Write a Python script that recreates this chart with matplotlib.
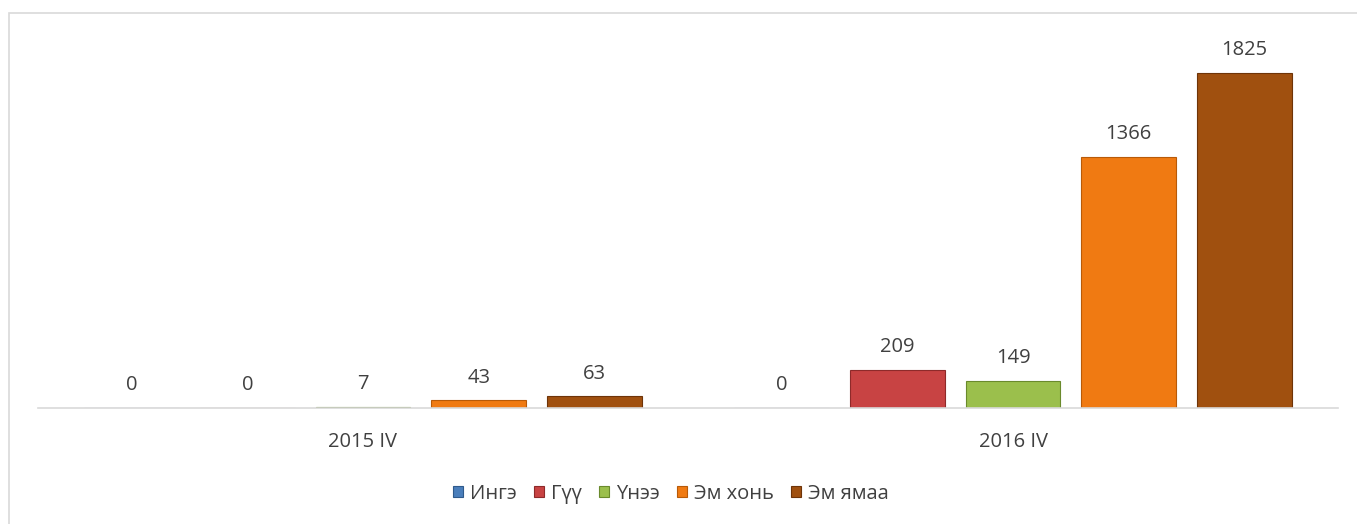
import matplotlib.pyplot as plt
import numpy as np

plt.rcParams['font.family'] = ['Open Sans', 'DejaVu Sans']

periods = ["2015 IV", "2016 IV"]
series = ["Ингэ", "Гүү", "Үнээ", "Эм хонь", "Эм ямаа"]
values = {
    "Ингэ": [0, 0],
    "Гүү": [0, 209],
    "Үнээ": [7, 149],
    "Эм хонь": [43, 1366],
    "Эм ямаа": [63, 1825],
}
colors = ["#4a7ebb", "#c84343", "#9bbf4c", "#f07a12", "#a0500f"]
edges = ["#2f5a8c", "#8e2a2a", "#6a8a2c", "#b85a08", "#6e3408"]

fig = plt.figure(figsize=(13.57, 5.24), dpi=100)
ax = fig.add_axes([0.028, 0.2214, 0.958, 0.741])

x = np.arange(len(periods))
pitch = 0.178
width = 0.146
for i, name in enumerate(series):
    pos = x + (i - 2) * pitch
    bars = ax.bar(pos, values[name], width, color=colors[i], edgecolor=edges[i],
                  linewidth=0.8, label=name)
    for b, v in zip(bars, values[name]):
        ax.annotate(str(v), (b.get_x() + b.get_width() / 2, v),
                    xytext=(0, 9), textcoords="offset points",
                    ha="center", va="bottom", fontsize=14.5, color="#404040")

ax.set_xlim(-0.5, 1.5)
ax.set_ylim(0, 2113)
ax.set_xticks(x)
ax.set_xticklabels(periods, fontsize=14.5, color="#404040")
ax.tick_params(axis="x", length=0, pad=17)
ax.set_yticks([])
for s in ["top", "right", "left"]:
    ax.spines[s].set_visible(False)
ax.spines["bottom"].set_color("#d9d9d9")
ax.spines["bottom"].set_linewidth(1.2)

leg = fig.legend(loc="center", bbox_to_anchor=(0.4945, 0.058), ncol=5, frameon=False,
                 fontsize=14.5, handlelength=0.5, handleheight=0.5, handletextpad=0.35,
                 columnspacing=0.85, labelcolor="#404040")

# chart frame: only the top and left edges fall inside the picture
border = plt.Rectangle((9 / 1357, -0.05), 1.1, (524 - 13) / 524 + 0.05,
                       transform=fig.transFigure, fill=False,
                       edgecolor="#d9d9d9", linewidth=1.2)
fig.patches.append(border)

fig.savefig("out.png", dpi=100)
